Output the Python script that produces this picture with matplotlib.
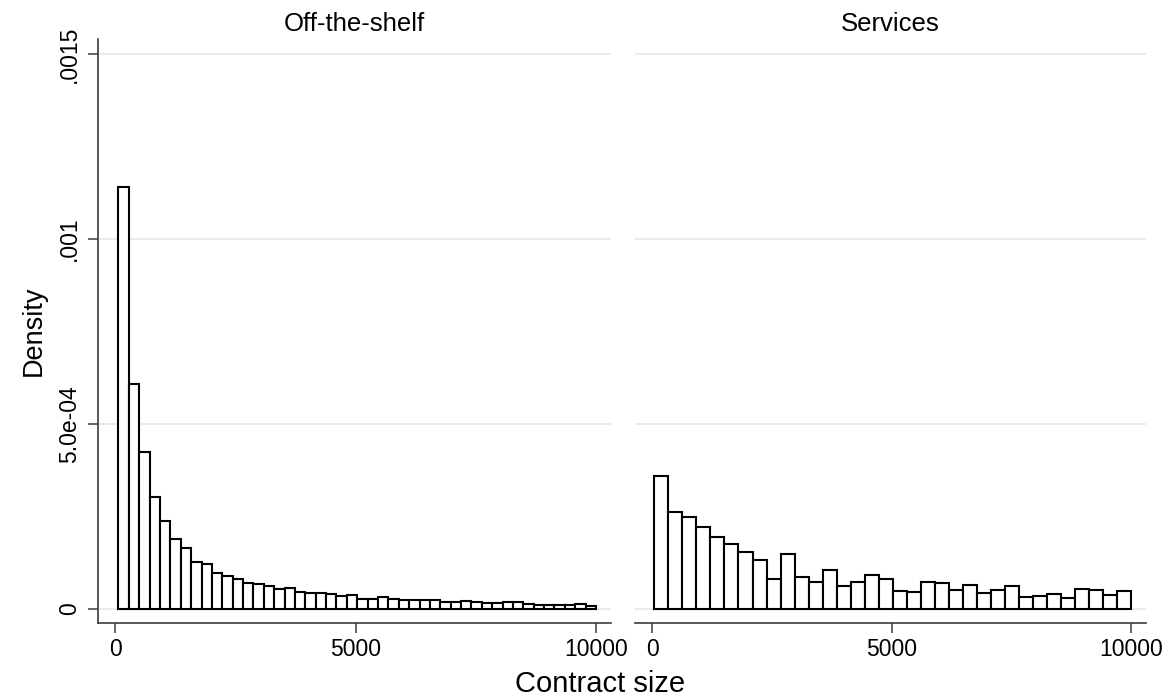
import numpy as np
import matplotlib
matplotlib.use("Agg")
import matplotlib.pyplot as plt
from matplotlib.ticker import FixedLocator, FixedFormatter

plt.rcParams['font.family'] = ['Liberation Sans', 'DejaVu Sans']

# histogram densities, contract size in 0-10000
off_shelf_range = (62, 10000)
off_shelf_density = [
    1.141e-3, 0.607e-3, 0.4235e-3, 0.3035e-3, 0.238e-3, 0.188e-3, 0.166e-3, 0.128e-3,
    0.121e-3, 0.098e-3, 0.090e-3, 0.080e-3, 0.071e-3, 0.068e-3, 0.062e-3, 0.054e-3,
    0.057e-3, 0.046e-3, 0.043e-3, 0.043e-3, 0.041e-3, 0.034e-3, 0.038e-3, 0.028e-3,
    0.028e-3, 0.032e-3, 0.028e-3, 0.024e-3, 0.023e-3, 0.023e-3, 0.023e-3, 0.020e-3,
    0.018e-3, 0.022e-3, 0.019e-3, 0.015e-3, 0.015e-3, 0.019e-3, 0.019e-3, 0.013e-3,
    0.010e-3, 0.012e-3, 0.012e-3, 0.012e-3, 0.013e-3, 0.009e-3,
]

services_range = (40, 10002)
services_density = [
    0.3595e-3, 0.2622e-3, 0.2495e-3, 0.2208e-3, 0.1954e-3, 0.1749e-3, 0.1541e-3,
    0.1324e-3, 0.0819e-3, 0.1486e-3, 0.0873e-3, 0.0716e-3, 0.1046e-3, 0.0622e-3,
    0.0716e-3, 0.0919e-3, 0.0803e-3, 0.0486e-3, 0.0459e-3, 0.0738e-3, 0.0695e-3,
    0.0514e-3, 0.0657e-3, 0.0441e-3, 0.0514e-3, 0.0630e-3, 0.0332e-3, 0.0359e-3,
    0.0405e-3, 0.0305e-3, 0.0541e-3, 0.0514e-3, 0.0370e-3, 0.0486e-3,
]

panel_titles = ["Off-the-shelf", "Services"]
y_ticks = [0, 0.0005, 0.001, 0.0015]
y_ticklabels = ["0", "5.0e-04", ".001", ".0015"]
x_ticks = [0, 5000, 10000]
x_ticklabels = ["0", "5000", "10000"]

axis_col = "#3c3c3c"
grid_col = "#e4edf0"

fig = plt.figure(figsize=(11.76, 7), dpi=100)
W, H = 1176, 700
ax_l = fig.add_axes([98 / W, 1 - 623 / H, 513 / W, 584 / H])
ax_r = fig.add_axes([635 / W, 1 - 623 / H, 511 / W, 584 / H])


def draw_hist(ax, rng, dens, title):
    edges = np.linspace(rng[0], rng[1], len(dens) + 1)
    ax.bar(edges[:-1], dens, width=np.diff(edges), align='edge',
           color='white', edgecolor='black', linewidth=1.5, zorder=3)
    for y in y_ticks:
        ax.axhline(y, color=grid_col, lw=1.5, zorder=1)
    ax.set_xlim(-364, 10312)
    ax.set_ylim(-3.8e-5, 1.5405e-3)
    ax.xaxis.set_major_locator(FixedLocator(x_ticks))
    ax.xaxis.set_major_formatter(FixedFormatter(x_ticklabels))
    ax.tick_params(axis='x', length=7, width=1.1, color=axis_col, labelsize=16.5, pad=4)
    for s in ['top', 'right']:
        ax.spines[s].set_visible(False)
    ax.spines['bottom'].set_color(axis_col)
    ax.spines['bottom'].set_linewidth(1.2)
    ax.set_title(title, fontsize=18.5, pad=6)


draw_hist(ax_l, off_shelf_range, off_shelf_density, panel_titles[0])
draw_hist(ax_r, services_range, services_density, panel_titles[1])

ax_l.yaxis.set_major_locator(FixedLocator(y_ticks))
ax_l.yaxis.set_major_formatter(FixedFormatter(y_ticklabels))
ax_l.tick_params(axis='y', length=7, width=1.1, color=axis_col, labelsize=16.5, pad=5)
for lab in ax_l.get_yticklabels():
    lab.set_rotation(90)
    lab.set_va('center')
ax_l.spines['left'].set_color(axis_col)
ax_l.spines['left'].set_linewidth(1.2)
ax_l.set_ylabel("Density", fontsize=19.5, labelpad=8)

ax_r.spines['left'].set_visible(False)
ax_r.set_yticks([])

fig.text(600 / W, 1 - 684 / H, "Contract size", ha='center', va='center', fontsize=21)

fig.savefig("out.png", dpi=100, facecolor='white')
